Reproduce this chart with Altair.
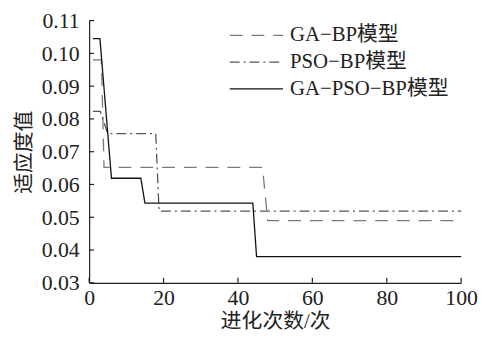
import altair as alt
import pandas as pd

models = ["GA−BP模型", "PSO−BP模型", "GA−PSO−BP模型"]

ga_x = [1, 3.3, 4, 46.6, 48, 100]
ga_y = [0.098, 0.098, 0.0652, 0.0652, 0.049, 0.049]

pso_x = [1, 3, 5, 17.9, 18.8, 100]
pso_y = [0.0823, 0.0823, 0.0755, 0.0755, 0.0519, 0.0519]

gapso_x = [1, 2.9, 6, 13.9, 15, 44, 45, 100]
gapso_y = [0.1045, 0.1045, 0.0619, 0.0619, 0.0543, 0.0543, 0.038, 0.038]

x_ticks = [0, 20, 40, 60, 80, 100]
y_ticks = [0.03, 0.04, 0.05, 0.06, 0.07, 0.08, 0.09, 0.10, 0.11]

rows = []
for name, xs, ys in zip(models, [ga_x, pso_x, gapso_x], [ga_y, pso_y, gapso_y]):
    for i, (a, b) in enumerate(zip(xs, ys)):
        rows.append({"model": name, "x": a, "y": b, "order": i})
df = pd.DataFrame(rows)

font = "Liberation Serif, Times New Roman, Noto Sans CJK SC"
W, H = 376, 265

xscale = alt.Scale(domain=[0, 100], nice=False)
yscale = alt.Scale(domain=[0.03, 0.11], nice=False, zero=False)
xaxis = alt.Axis(values=x_ticks, title="进化次数/次", grid=False, ticks=False, labelOverlap=False)
yaxis = alt.Axis(values=y_ticks, format=".2f", title="适应度值", grid=False, ticks=False, labelOverlap=False)

lines = alt.Chart(df).mark_line(strokeWidth=1.3).encode(
    x=alt.X("x:Q", scale=xscale, axis=xaxis),
    y=alt.Y("y:Q", scale=yscale, axis=yaxis),
    order="order:Q",
    color=alt.Color("model:N", scale=alt.Scale(domain=models, range=["#7a7a7a", "#555555", "#111111"]),
                    legend=alt.Legend(title=None, orient="none", legendX=141, legendY=4,
                                      symbolType="stroke", symbolSize=2900, symbolStrokeWidth=1.3,
                                      labelFont=font, labelFontSize=21, labelColor="#222",
                                      labelLimit=400, clipHeight=22, rowPadding=5, labelOffset=6,
                                      padding=0)),
    strokeDash=alt.StrokeDash("model:N", scale=alt.Scale(domain=models, range=[[13, 9], [10, 4, 2, 4], [1, 0]]),
                              legend=None),
)

xt = alt.Chart(pd.DataFrame({"t": x_ticks})).mark_rule(color="#222", strokeWidth=1.2).encode(
    x=alt.X("t:Q", scale=xscale, axis=xaxis), y=alt.value(H), y2=alt.value(H - 5))
yt = alt.Chart(pd.DataFrame({"t": y_ticks})).mark_rule(color="#222", strokeWidth=1.2).encode(
    y=alt.Y("t:Q", scale=yscale, axis=yaxis), x=alt.value(0), x2=alt.value(5))

chart = alt.layer(lines, xt, yt).properties(
    width=W, height=H, padding={"left": 5, "top": 0, "right": 0, "bottom": 0},
).configure_axis(
    domain=True, domainColor="#222", labelFont=font, titleFont=font,
    labelFontSize=22, titleFontSize=21, labelColor="#222", titleColor="#222",
    titleFontWeight="normal", domainWidth=1.2,
).configure_axisX(labelPadding=5, titlePadding=2, labelFlush=False) \
 .configure_axisY(labelPadding=10, titlePadding=7) \
 .configure_view(stroke=None)

chart.save("out.html", embed_options={"renderer": "svg", "actions": False})
